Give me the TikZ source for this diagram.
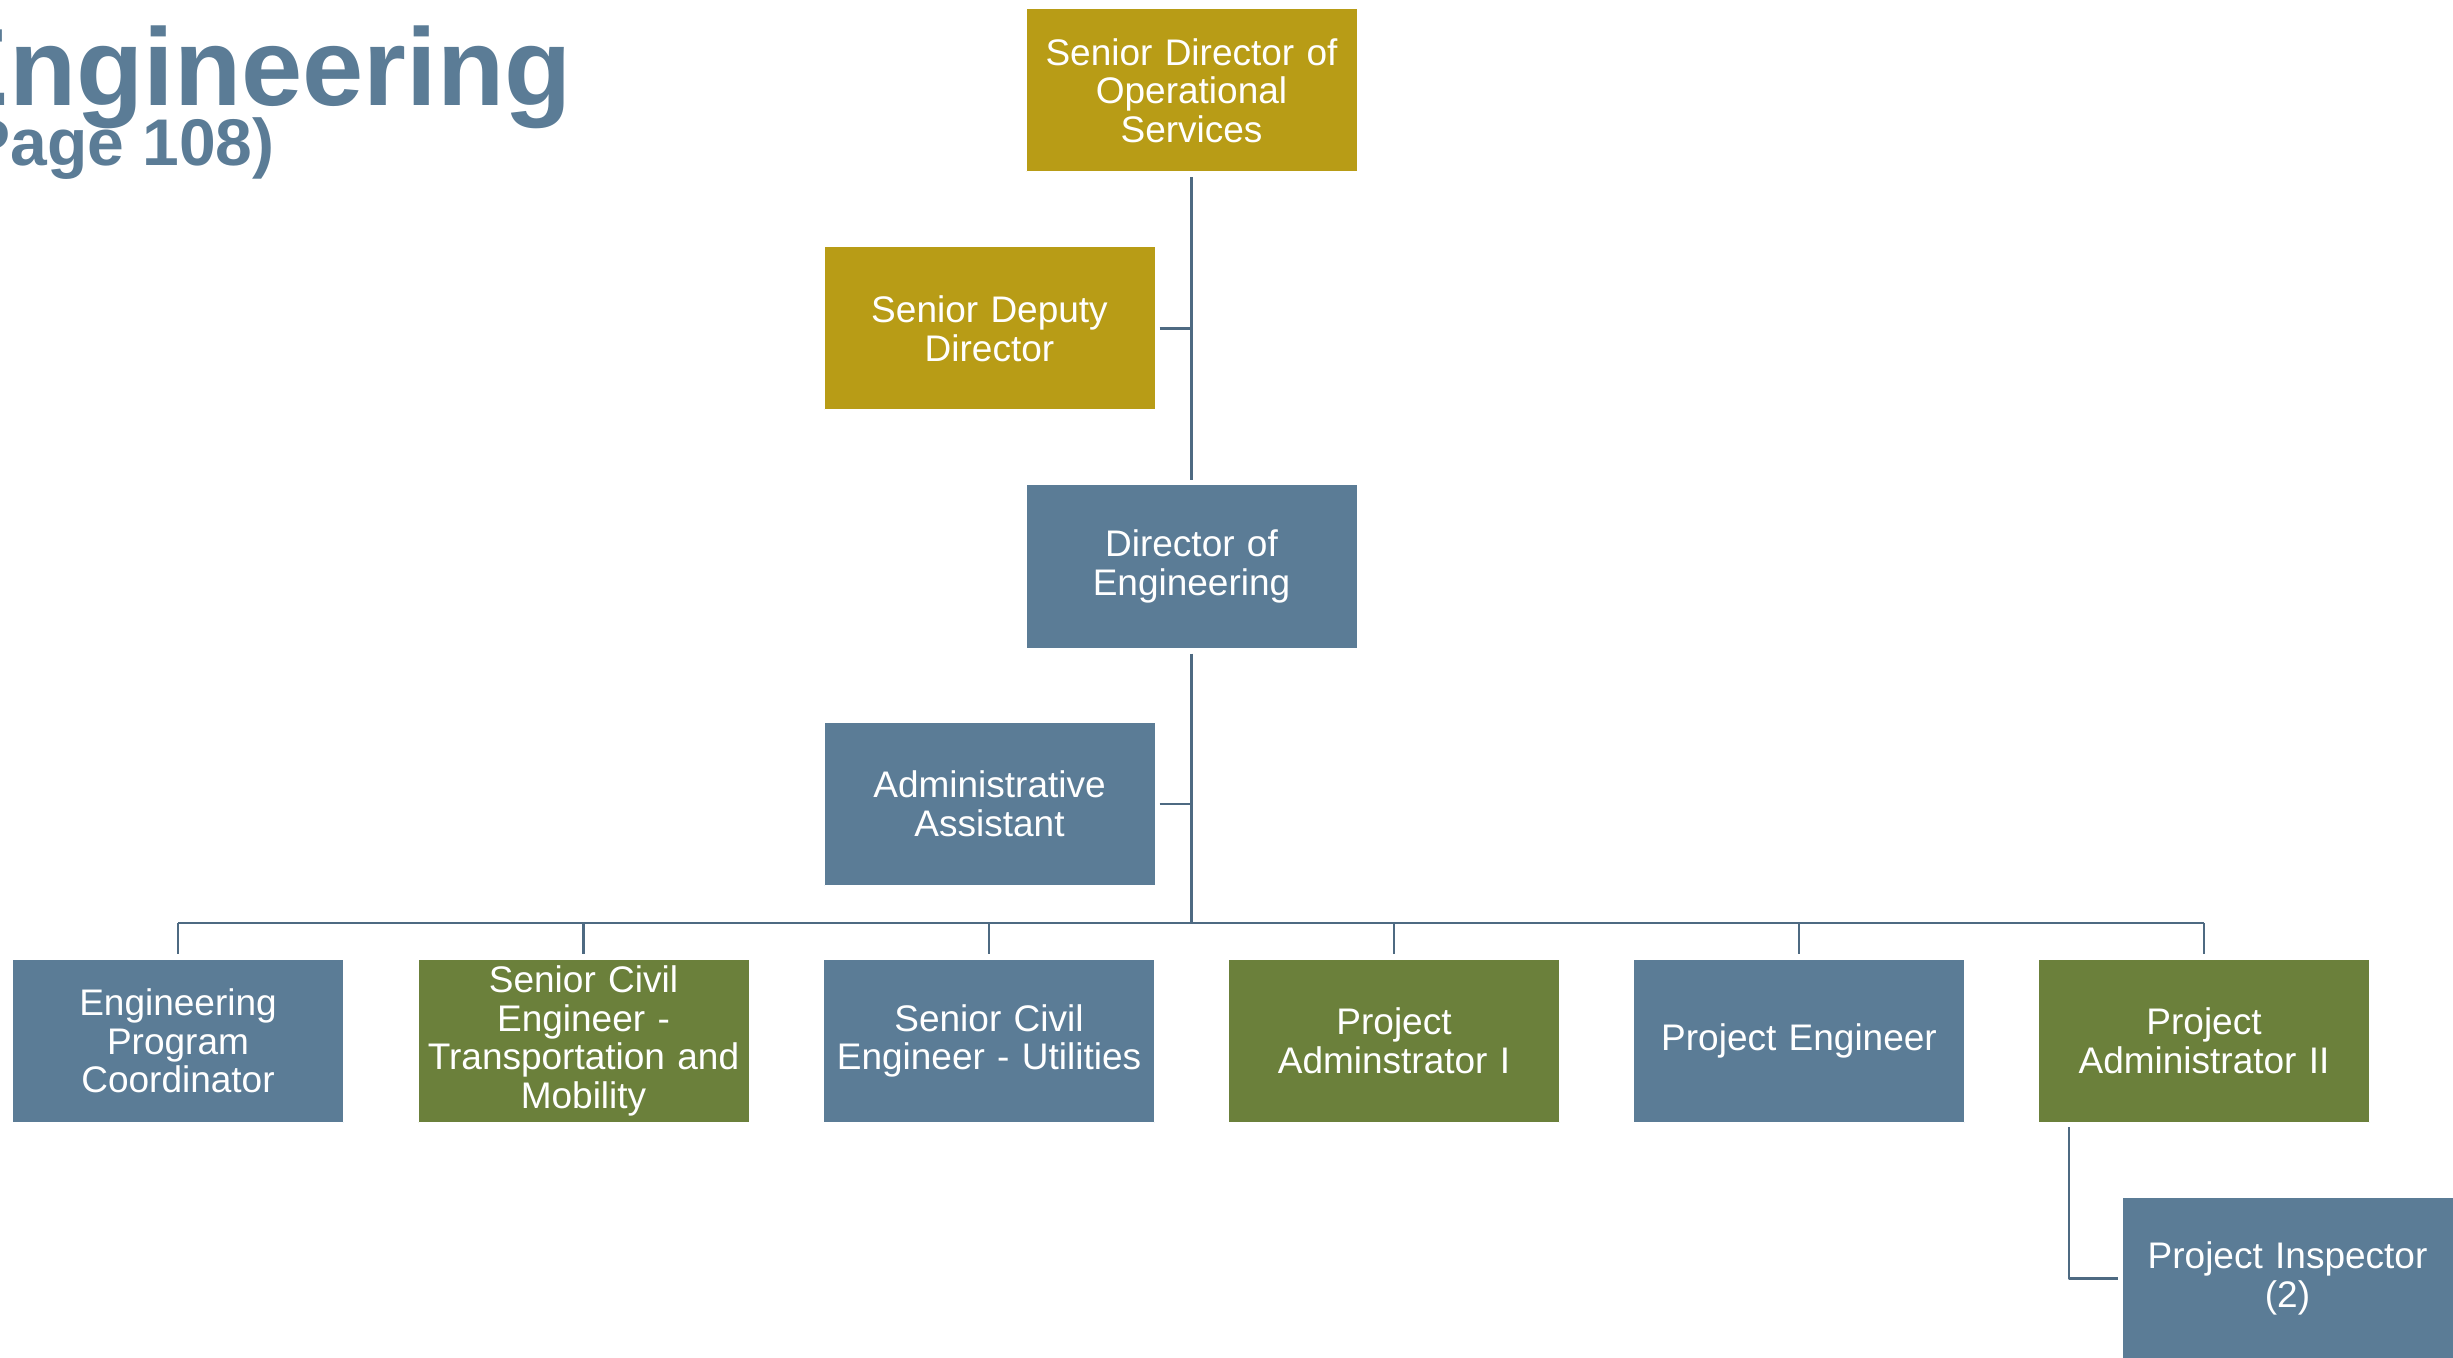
\documentclass[tikz,border=0pt]{standalone}
\usepackage{fontspec}
\setmainfont{Liberation Sans}
\definecolor{orgblue}{RGB}{91,124,150}
\definecolor{orggold}{RGB}{184,156,22}
\definecolor{orggreen}{RGB}{107,128,59}
\definecolor{orgline}{RGB}{78,106,130}
\begin{document}
\begin{tikzpicture}[x=0.5pt,y=-0.5pt, line join=round,
	orgbox/.style={rectangle, draw=white, line width=0.5pt, text=white, minimum width=165.5pt, minimum height=81.5pt, text width=164pt, align=center, inner sep=0pt, font=\fontsize{18.5}{19.3}\selectfont},
	bluebox/.style={orgbox, fill=orgblue},
	goldbox/.style={orgbox, fill=orggold},
	greenbox/.style={orgbox, fill=orggreen},
	link/.style={draw=orgline, line width=1.3pt}]
	\useasboundingbox (0,0) rectangle (2453,1358);
	\def\rowy{1041} \def\busy{923} % bottom row, bus
	% title
	\node[anchor=base east, inner sep=0pt, text=orgblue, font=\fontsize{55}{55}\selectfont\bfseries] (title) at (572,106) {Engineering};
	\node[anchor=base east, inner sep=0pt, text=orgblue, font=\fontsize{33}{33}\selectfont\bfseries] (page) at (275,166) {Page 108)};
	% boxes
	\node[goldbox] (sdos) at (1191.5,90.5) {Senior Director of\\Operational\\Services};
	\node[goldbox] (sdd) at (989.5,328.5) {Senior Deputy\\Director};
	\node[bluebox] (doe) at (1191.5,566.5) {Director of\\Engineering};
	\node[bluebox] (aa) at (989.5,804) {Administrative\\Assistant};
	\node[bluebox] (epc) at (178,\rowy) {Engineering\\Program\\Coordinator};
	\node[greenbox] (scetm) at (583.5,\rowy) {Senior Civil\\Engineer -\\Transportation and\\Mobility};
	\node[bluebox] (sceu) at (989,\rowy) {Senior Civil\\Engineer - Utilities};
	\node[greenbox] (pa1) at (1394,\rowy) {Project\\Adminstrator I};
	\node[bluebox] (pe) at (1799,\rowy) {Project Engineer};
	\node[greenbox] (pa2) at (2204,\rowy) {Project\\Administrator II};
	\node[bluebox] (pi) at (2287.5,1278.5) {Project Inspector\\(2)};
	% connectors
	\coordinate (bus) at (1191.5,\busy);
	\draw[link, shorten <=2.5pt, shorten >=2pt] (sdos.south) -- (doe.north);
	\draw[link, shorten <=2pt] (sdd.east) -- (sdd.east -| sdos.south);
	\draw[link, shorten <=2.5pt] (doe.south) -- (bus);
	\draw[link, shorten <=2pt] (aa.east) -- (aa.east -| doe.south);
	\draw[link] (epc.north |- bus) -- (pa2.north |- bus);
	\foreach \n in {epc,scetm,sceu,pa1,pe,pa2}
		\draw[link, shorten >=2.5pt] (\n.north |- bus) -- (\n.north);
	\draw[link, shorten >=2pt] ([xshift=15.5pt,yshift=-2pt]pa2.south west) |- (pi.west);
\end{tikzpicture}
\end{document}
